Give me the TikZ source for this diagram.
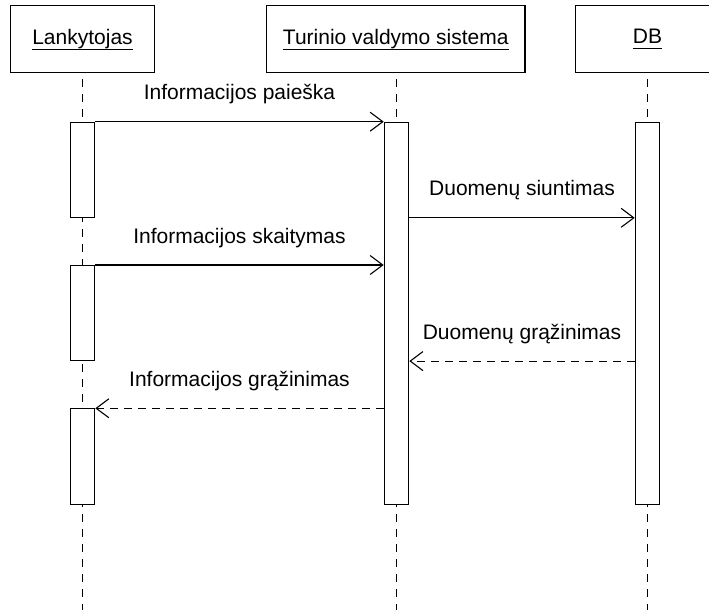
\documentclass[tikz,border=0pt]{standalone}
\usepackage{fontspec}
\setmainfont{Liberation Sans}
\usetikzlibrary{arrows.meta}

% underline set at a fixed depth below the baseline, crossing the descenders
\newcommand{\headtext}[1]{\setbox0\hbox{#1}\rlap{\rule[-5.6bp]{\wd0}{1.2bp}}\box0}

\tikzset{
  seq/.style={line width=1.1bp, draw=black},
  objbox/.style={seq, rectangle, fill=white, inner sep=0pt, minimum height=66.7bp,
    font=\fontsize{21bp}{25bp}\selectfont},
  actbox/.style={seq, rectangle, fill=white, inner sep=0pt, minimum width=24.5bp},
  lifeline/.style={seq, dash pattern=on 8bp off 7bp, dash phase=9bp},
  msg/.style={seq, -{Straight Barb[length=12.7bp, width=19bp, line width=1.1bp]}},
  reply/.style={msg, dash pattern=on 8bp off 6bp},
  lbl/.style={midway, anchor=base, yshift=22bp, inner sep=0pt,
    font=\fontsize{21bp}{25bp}\selectfont}
}

\begin{document}
\begin{tikzpicture}[x=1bp, y=-1bp]
  \useasboundingbox (0,0) rectangle (709,610);
  \clip (0,0) rectangle (709,610);

  % participants
  \node[objbox, minimum width=143.3bp] (lank) at (82.5,39.3) {\headtext{Lankytojas}};
  \node[objbox, minimum width=258.3bp] (tvs) at (395.8,39.3) {\headtext{Turinio valdymo sistema}};
  \node[objbox, minimum width=144bp] (db) at (647.5,39.3) {\headtext{DB}};

  % lifelines down to the lower edge
  \coordinate (lankEnd) at (82.5,612);
  \coordinate (tvsEnd) at (396.5,612);
  \coordinate (dbEnd) at (647.5,612);
  \draw[lifeline] (lank.south) -- (lankEnd);
  \draw[lifeline] (tvs.south -| tvsEnd) -- (tvsEnd);
  \draw[lifeline] (db.south) -- (dbEnd);

  % activation bars
  \node[actbox, anchor=north, minimum height=95bp] (a1) at (82.5,121.7) {};
  \node[actbox, anchor=north, minimum height=95bp] (a2) at (82.5,265) {};
  \node[actbox, anchor=north, minimum height=96bp] (a3) at (82.5,408.3) {};
  \node[actbox, anchor=north, minimum height=382.6bp] (t) at (396.5,121.7) {};
  \node[actbox, anchor=north, minimum height=382.6bp] (d) at (647.5,121.7) {};

  % messages
  \draw[msg] (a1.north east) -- node[lbl] {Informacijos paieška} (t.north west);
  \draw[msg] (t.east |- a1.south) -- node[lbl] {Duomenų siuntimas} (d.west |- a1.south);
  \draw[msg] (a2.north east) -- node[lbl] {Informacijos skaitymas} (t.west |- a2.north);
  \draw[reply] (d.west |- a2.south) -- node[lbl] {Duomenų grąžinimas} (t.east |- a2.south);
  \draw[reply] (t.west |- a3.north) -- node[lbl] {Informacijos grąžinimas} (a3.north east);
\end{tikzpicture}
\end{document}
